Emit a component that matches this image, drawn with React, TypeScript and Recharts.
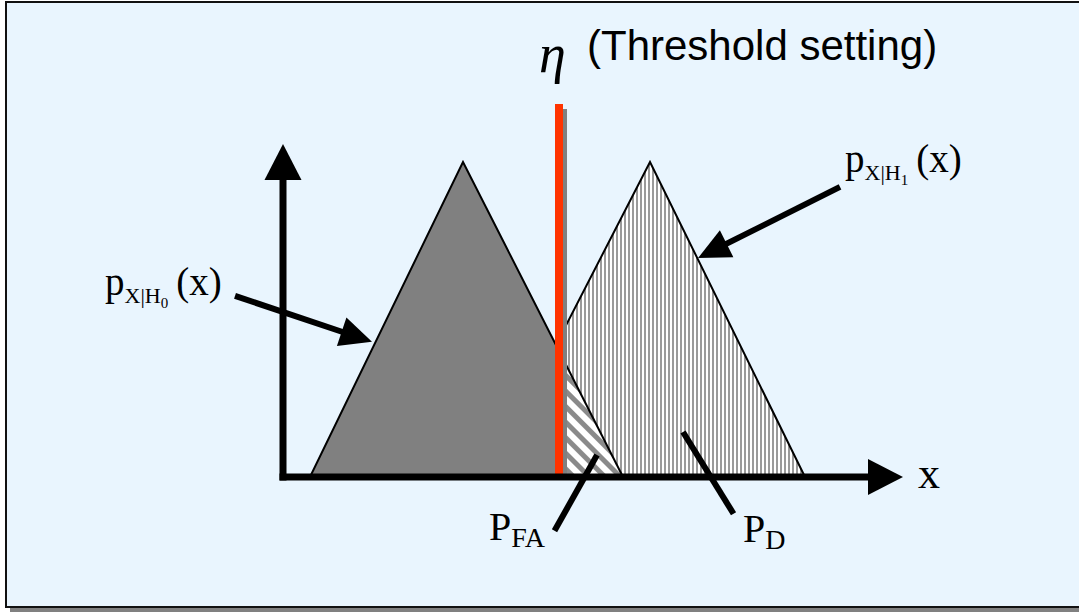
import { ComposedChart, Area, XAxis, YAxis, ReferenceLine, ReferenceDot } from "recharts"

// two triangular densities; H0 is split at the threshold (gray left, hatched P_FA right)
const h0Left = [
  { x: 1.35, y: 0 },
  { x: 9, y: 1 },
  { x: 13.8, y: 0.4 },
]
const h0Right = [
  { x: 13.8, y: 0.4 },
  { x: 17, y: 0 },
]
const h1 = [
  { x: 10.25, y: 0 },
  { x: 18.35, y: 1 },
  { x: 26.1, y: 0 },
]
const threshold = 13.8
const thresholdTop = 1.184
const axisEndX = 31
const axisEndY = 1.057

// pointer arrows / lines: [from, to]
const h0Pointer = [{ x: -2.4, y: 0.575 }, { x: 4.45, y: 0.429 }]
const h1Pointer = [{ x: 27.85, y: 0.921 }, { x: 20.75, y: 0.695 }]
const pfaPointer = [{ x: 15.7, y: 0.07 }, { x: 13.6, y: -0.168 }]
const pdPointer = [{ x: 20, y: 0.143 }, { x: 22.5, y: -0.114 }]

const labels = [
  { id: "h0", x: -8.9, y: 0.578 },
  { id: "h1", x: 28.1, y: 0.968 },
  { id: "pfa", x: 10.3, y: -0.2 },
  { id: "pd", x: 23, y: -0.206 },
  { id: "x", x: 31.75, y: -0.035 },
  { id: "eta", x: 12.8, y: 1.285 },
  { id: "thr", x: 15.2, y: 1.324 },
]

const serif = "'Liberation Serif', 'Times New Roman', serif"
const sans = "'Liberation Sans', Arial, sans-serif"

const arrow = (w: number, head: number, headW: number, cap = "butt") => (p: any) => {
  const { x1, y1, x2, y2 } = p
  const dx = x2 - x1
  const dy = y2 - y1
  const len = Math.hypot(dx, dy) || 1
  const ux = dx / len
  const uy = dy / len
  const bx = x2 - ux * head
  const by = y2 - uy * head
  const nx = (-uy * headW) / 2
  const ny = (ux * headW) / 2
  return (
    <g>
      <line x1={x1} y1={y1} x2={bx + ux} y2={by + uy} stroke="#000" strokeWidth={w} strokeLinecap={cap as any} />
      {head > 0 && (
        <polygon points={`${x2},${y2} ${bx + nx},${by + ny} ${bx - nx},${by - ny}`} fill="#000" />
      )}
    </g>
  )
}

const thresholdShape = (p: any) => (
  <g>
    <line x1={p.x1 + 5} y1={p.y1 + 3} x2={p.x2 + 5} y2={p.y2 + 5} stroke="#808080" strokeWidth={6} />
    <line x1={p.x1} y1={p.y1 - 3} x2={p.x2} y2={p.y2} stroke="#FF3300" strokeWidth={8} />
  </g>
)

const pLabel = (sub: string) => (p: any) => (
  <text x={p.cx} y={p.cy} fontFamily={serif} fill="#000">
    <tspan fontSize={39}>p</tspan>
    <tspan fontSize={22} dy={8}>X|H</tspan>
    <tspan fontSize={15} dy={5}>{sub}</tspan>
    <tspan fontSize={39} dy={-13} dx={8}>(x)</tspan>
  </text>
)

const bigP = (sub: string) => (p: any) => (
  <text x={p.cx} y={p.cy} fontFamily={serif} fill="#000">
    <tspan fontSize={40}>P</tspan>
    <tspan fontSize={28} dy={7}>{sub}</tspan>
  </text>
)

const shapes: Record<string, (p: any) => any> = {
  h0: pLabel("0"),
  h1: pLabel("1"),
  pfa: bigP("FA"),
  pd: bigP("D"),
  x: (p: any) => (
    <text x={p.cx} y={p.cy} fontFamily={serif} fontSize={44} fill="#000">x</text>
  ),
  eta: (p: any) => (
    <text x={p.cx} y={p.cy} fontFamily={serif} fontStyle="italic" fontSize={54} fill="#000">η</text>
  ),
  thr: (p: any) => (
    <text x={p.cx} y={p.cy} fontFamily={sans} fontSize={42} fill="#000">(Threshold setting)</text>
  ),
}

export default function App() {
  return (
    <div style={{ position: "absolute", left: 0, top: 0, width: 1079, height: 612, overflow: "hidden" }}>
      <div
        style={{
          position: "absolute",
          left: 5,
          top: 1,
          width: 1090,
          height: 603,
          background: "#E9F5FE",
          border: "2px solid #111",
          boxShadow: "5px 4px 0 #808080",
        }}
      />
      <div style={{ position: "absolute", left: 0, top: 0 }}>
        <ComposedChart width={1079} height={612} margin={{ top: 99, right: 176, bottom: 135, left: 283 }}>
          <defs>
            <pattern id="vstripe" width={4} height={4} patternUnits="userSpaceOnUse">
              <rect width={4} height={4} fill="#fff" />
              <rect width={2} height={4} fill="#9a9a9a" />
            </pattern>
            <pattern id="dstripe" width={11} height={11} patternUnits="userSpaceOnUse" patternTransform="rotate(-45)">
              <rect width={11} height={11} fill="#fff" />
              <rect width={5} height={11} fill="#8a8a8a" />
            </pattern>
          </defs>
          <XAxis type="number" dataKey="x" domain={[0, axisEndX]} allowDataOverflow hide />
          <YAxis type="number" dataKey="y" domain={[0, 1.2]} allowDataOverflow hide />
          <Area
            data={h1}
            dataKey="y"
            type="linear"
            fill="url(#vstripe)"
            fillOpacity={1}
            stroke="#000"
            strokeWidth={2}
            dot={false}
            activeDot={false}
            isAnimationActive={false}
          />
          <Area
            data={h0Left}
            dataKey="y"
            type="linear"
            fill="#808080"
            fillOpacity={1}
            stroke="#000"
            strokeWidth={2}
            dot={false}
            activeDot={false}
            isAnimationActive={false}
          />
          <Area
            data={h0Right}
            dataKey="y"
            type="linear"
            fill="url(#dstripe)"
            fillOpacity={1}
            stroke="#000"
            strokeWidth={2}
            dot={false}
            activeDot={false}
            isAnimationActive={false}
          />
          <ReferenceLine
            segment={[{ x: threshold, y: 0 }, { x: threshold, y: thresholdTop }]}
            ifOverflow="visible"
            shape={thresholdShape}
          />
          <ReferenceLine
            segment={[{ x: 0, y: 0 }, { x: axisEndX, y: 0 }]}
            ifOverflow="visible"
            shape={arrow(7, 35, 36, "square")}
          />
          <ReferenceLine
            segment={[{ x: 0, y: 0 }, { x: 0, y: axisEndY }]}
            ifOverflow="visible"
            shape={arrow(7, 36, 37, "square")}
          />
          <ReferenceLine segment={h0Pointer} ifOverflow="visible" shape={arrow(6, 32, 30)} />
          <ReferenceLine segment={h1Pointer} ifOverflow="visible" shape={arrow(6, 32, 30)} />
          <ReferenceLine segment={pfaPointer} ifOverflow="visible" shape={arrow(6, 0, 0)} />
          <ReferenceLine segment={pdPointer} ifOverflow="visible" shape={arrow(6, 0, 0)} />
          {labels.map((l) => (
            <ReferenceDot key={l.id} x={l.x} y={l.y} ifOverflow="visible" shape={shapes[l.id]} />
          ))}
        </ComposedChart>
      </div>
    </div>
  )
}
